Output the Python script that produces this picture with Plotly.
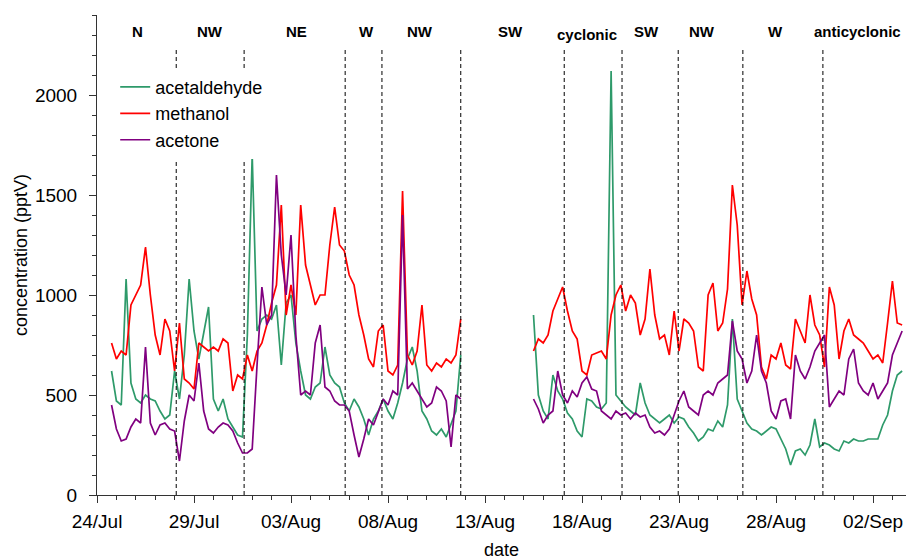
import pandas as pd
import plotly.graph_objects as go

# ---------------- data (6-hourly samples) ----------------
# segment 1: 24 Jul 18:00 -> 11 Aug 18:00 ; segment 2: 15 Aug 12:00 -> 03 Sep 12:00
times_a = pd.date_range("2010-07-24 18:00", "2010-08-11 18:00", freq="6h")
times_b = pd.date_range("2010-08-15 12:00", "2010-09-03 12:00", freq="6h")

methanol_a = [760,
    680, 720, 700, 950,      1000, 1050, 1240, 1000,   800, 700, 880, 820,
    620, 860, 580, 560,      530, 760, 740, 720,       740, 720, 780, 760,
    520, 600, 580, 700,      620, 720, 760, 850,       960, 1050, 1450, 900,
    1050, 900, 1450, 1150,   1050, 950, 1000, 1000,    1250, 1440, 1250, 1220,
    1100, 1050, 900, 800,    680, 640, 820, 850,       620, 600, 650, 1520,
    700, 650, 720, 950,      650, 620, 660, 640,       680, 660, 700, 880]
methanol_b = [720, 780,
    760, 800, 920, 980,      1040, 920, 820, 780,      620, 600, 700, 710,
    720, 680, 900, 1000,     1050, 920, 1000, 960,     800, 880, 1130, 900,
    780, 800, 700, 920,      720, 880, 860, 820,       640, 620, 1000, 1060,
    820, 860, 1030, 1550,    1350, 950, 1120, 980,     900, 640, 580, 700,
    680, 760, 650, 630,      880, 820, 760, 1000,      850, 800, 640, 1040,
    950, 680, 820, 880,      800, 780, 760, 720,       680, 700, 660, 860,
    1070, 860, 850]

acetaldehyde_a = [620,
    470, 450, 1080, 560,     480, 460, 500, 480,       470, 420, 380, 400,
    620, 480, 700, 1080,     820, 680, 820, 940,       480, 420, 480, 380,
    340, 300, 290, 800,      1700, 820, 880, 900,      880, 950, 650, 960,
    1000, 760, 620, 500,     480, 540, 560, 740,       600, 560, 540, 460,
    420, 480, 440, 380,      300, 380, 420, 480,       420, 380, 460, 560,
    680, 740, 620, 420,      380, 320, 300, 330,       290, 350, 420, 700]
acetaldehyde_b = [900, 500,
    420, 380, 600, 520,      480, 410, 380, 320,       290, 480, 470, 440,
    430, 460, 2120, 500,     470, 440, 420, 400,       560, 460, 400, 380,
    360, 380, 400, 360,      390, 380, 340, 310,       270, 290, 330, 320,
    370, 340, 450, 880,      480, 420, 360, 330,       320, 300, 320, 340,
    330, 280, 230, 150,      220, 230, 200, 250,       380, 240, 260, 250,
    230, 220, 270, 260,      280, 270, 270, 280,       280, 280, 350, 400,
    520, 600, 620]

acetone_a = [450,
    330, 270, 280, 340,      380, 360, 740, 360,       300, 350, 360, 330,
    320, 170, 370, 500,      470, 660, 420, 330,       310, 340, 360, 350,
    320, 260, 210, 210,      230, 650, 1040, 850,      900, 1600, 1200, 1000,
    1300, 800, 500, 520,     500, 760, 850, 540,       520, 470, 450, 450,
    420, 300, 190, 280,      380, 350, 420, 480,       450, 520, 500, 1400,
    530, 560, 520, 480,      440, 460, 540, 520,       470, 240, 500, 480]
acetone_b = [480, 430,
    360, 400, 420, 620,      500, 460, 520, 490,       560, 590, 530, 520,
    420, 400, 380, 420,      400, 410, 380, 410,       390, 400, 340, 310,
    320, 300, 330, 400,      470, 520, 440, 420,       400, 500, 520, 500,
    560, 580, 600, 870,      720, 680, 560, 620,       800, 620, 560, 420,
    380, 470, 480, 380,      700, 620, 580, 640,       720, 760, 800, 440,
    480, 520, 500, 680,      730, 560, 520, 500,       560, 480, 520, 560,
    700, 760, 820]

# meteorological regimes: boundaries (dashed lines) and labels
regime_boundaries = ["2010-07-28 02:00", "2010-07-31 14:00", "2010-08-05 19:00",
                     "2010-08-07 16:30", "2010-08-11 18:00", "2010-08-17 02:00",
                     "2010-08-20 01:30", "2010-08-22 23:00", "2010-08-26 07:00",
                     "2010-08-30 10:00"]
regime_labels = ["N", "NW", "NE", "W", "NW", "SW", "cyclonic", "SW", "NW", "W", "anticyclonic"]
regime_label_times = ["2010-07-26 01:30", "2010-07-29 19:40", "2010-08-03 06:15",
                      "2010-08-06 21:40", "2010-08-09 15:30", "2010-08-14 07:00",
                      "2010-08-18 06:15", "2010-08-21 08:20", "2010-08-24 04:50",
                      "2010-08-27 22:50", "2010-09-01 04:50"]

for arr in (methanol_a, acetaldehyde_a, acetone_a):
    assert len(arr) == len(times_a), len(arr)
for arr in (methanol_b, acetaldehyde_b, acetone_b):
    assert len(arr) == len(times_b), len(arr)

gap_time = times_a[-1] + pd.Timedelta(hours=12)
times = list(times_a) + [gap_time] + list(times_b)


def join(a, b):
    return list(a) + [None] + list(b)


series = [
    ("acetaldehyde", join(acetaldehyde_a, acetaldehyde_b), "#2E9A6A"),
    ("methanol", join(methanol_a, methanol_b), "#FF0000"),
    ("acetone", join(acetone_a, acetone_b), "#800080"),
]

fig = go.Figure()
for name, vals, col in series:
    fig.add_trace(go.Scatter(x=times, y=vals, mode="lines", name=name,
                             line=dict(color=col, width=1.7), connectgaps=False))

for b in regime_boundaries:
    fig.add_shape(type="line", xref="x", yref="y", x0=b, x1=b, y0=0, y1=2235,
                  line=dict(color="black", width=1, dash="4px,3px"), layer="above")

for lab, t in zip(regime_labels, regime_label_times):
    fig.add_annotation(x=t, y=2320, xref="x", yref="y", text="<b>%s</b>" % lab,
                       showarrow=False, font=dict(size=15, color="black"),
                       yshift=-3 if lab == "cyclonic" else 0)

day_ms = 86400000
fig.update_layout(
    width=906, height=560,
    margin=dict(l=97, r=0, t=15, b=65, autoexpand=False),
    plot_bgcolor="white", paper_bgcolor="white",
    font=dict(family="Arial, Liberation Sans, sans-serif", color="black", size=19),
    showlegend=True,
    legend=dict(x=0.0225, y=0.888, xanchor="left", yanchor="top", bgcolor="white",
                font=dict(size=18), borderwidth=0, tracegroupgap=0),
)
fig.update_xaxes(
    type="date", range=["2010-07-24 00:00", "2010-09-03 16:48"],
    tick0="2010-07-24", dtick=5 * day_ms, tickformat="%d/%b",
    ticks="outside", ticklen=7, tickcolor="#333", showline=True, linecolor="#333",
    linewidth=1, showgrid=False, zeroline=False, ticklabelstandoff=2,
    minor=dict(dtick=day_ms, ticks="outside", ticklen=4, tickcolor="#333", showgrid=False),
    title=dict(text="date", font=dict(size=18), standoff=17),
)
fig.update_yaxes(
    range=[0, 2400], dtick=500, ticks="outside", ticklen=7, tickcolor="#333",
    showline=True, linecolor="#333", linewidth=1, showgrid=False, zeroline=False,
    minor=dict(dtick=100, ticks="outside", ticklen=4, tickcolor="#333", showgrid=False),
    ticklabelstandoff=8,
    title=dict(text="concentration (pptV)", font=dict(size=18), standoff=2),
)

# remove the default page margin so the 906x560 figure fills the window exactly
fig.write_html("out.html",
               config={"displayModeBar": False},
               post_script="document.body.style.margin='0';"
                           "document.documentElement.style.overflow='hidden';")
